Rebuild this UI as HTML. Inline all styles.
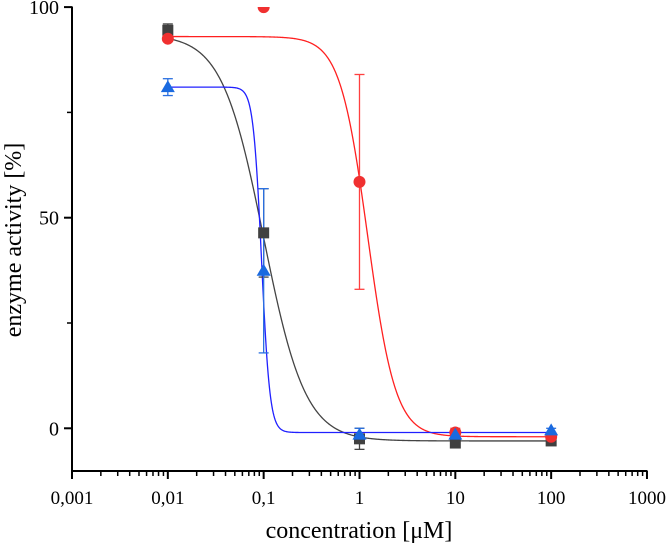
<!DOCTYPE html>
<html><head><meta charset="utf-8"><style>
body{margin:0;background:#fff;}
svg{display:block;font-family:"Liberation Serif",serif;}
</style></head><body>
<svg id="chart" width="666" height="545" viewBox="0 0 666 545" xmlns="http://www.w3.org/2000/svg">
<defs><clipPath id="clip"><rect x="72" y="7" width="580" height="464"/></clipPath></defs>
<g id="axes"></g>
<g id="plot" clip-path="url(#clip)"></g>
<text x="359" y="538" font-size="24" text-anchor="middle">concentration [μM]</text>
<text transform="translate(21,240) rotate(-90)" font-size="24" text-anchor="middle">enzyme activity [%]</text>
</svg>
<script>
const concentrations = [0.01, 0.1, 1, 10, 100];
const blackValues = [94.5, 46.4, -2.5, -3.5, -3];
const blackErrors = [1.5, 10.5, 2.5, 1, 0.5];
const redValues = [92.5, 100, 58.5, -1, -2];
const redErrors = [0.5, 0.5, 25.5, 1, 0.5];
const blueValues = [81, 37.4, -1.5, -1.5, -0.5];
const blueErrors = [2, 19.5, 1.5, 1, 0.5];
const blackFit = [93.5, -3, 0.1, 2.0];
const redFit = [93, -2, 1.22, 3.0];
const blueFit = [81, -1, 0.095, 10];
const xTickValues = [0.001, 0.01, 0.1, 1, 10, 100, 1000];
const xTickLabels = ["0,001", "0,01", "0,1", "1", "10", "100", "1000"];
const yTickValues = [0, 50, 100];
const yTickLabels = ["0", "50", "100"];
const yMinorValues = [25, 75];

const NS = "http://www.w3.org/2000/svg";
const X0 = 72, DEC = 95.83, Y0 = 428.3, YS = 4.212, AXY = 471;
function xs(v){ return X0 + (Math.log10(v) + 3) * DEC; }
function ys(v){ return Y0 - v * YS; }
function mk(tag, attrs, parent){ const e = document.createElementNS(NS, tag); for (const k in attrs) e.setAttribute(k, attrs[k]); parent.appendChild(e); return e; }
const axes = document.getElementById("axes"), plot = document.getElementById("plot");

let l = mk("line", {x1:X0, y1:AXY, x2:647.5, y2:AXY, stroke:"#000", "stroke-width":2}, axes);


l = mk("line", {x1:X0, y1:6.5, x2:X0, y2:AXY+1, stroke:"#000", "stroke-width":2}, axes);



xTickValues.forEach((v, i) => {
  const x = xs(v);
  const t = mk("line", {x1:x, y1:AXY, x2:x, y2:AXY+8, stroke:"#000", "stroke-width":2}, axes);
  
  
  const tx = mk("text", {x:x, y:AXY+33, "font-size":19, "text-anchor":"middle"}, axes);
  tx.textContent = xTickLabels[i];
  
  
  if (i < xTickValues.length - 1) {
    for (let m = 2; m <= 9; m++) {
      const mx = xs(v * m);
      const mt = mk("line", {x1:mx, y1:AXY, x2:mx, y2:AXY+5, stroke:"#000", "stroke-width":1.5}, axes);
      
      
    }
  }
});
yTickValues.forEach((v, i) => {
  const y = ys(v);
  const t = mk("line", {x1:X0-8, y1:y, x2:X0, y2:y, stroke:"#000", "stroke-width":2}, axes);
  
  
  const tx = mk("text", {x:X0-13, y:y+7, "font-size":20, "text-anchor":"end"}, axes);
  tx.textContent = yTickLabels[i];
  
  
});
yMinorValues.forEach(v => {
  const t = mk("line", {x1:X0-5, y1:ys(v), x2:X0, y2:ys(v), stroke:"#000", "stroke-width":1.5}, axes);
  
  
});

function hill(p, x){ return p[1] + (p[0] - p[1]) / (1 + Math.pow(x / p[2], p[3])); }
function curve(p, color, name){
  let d = "";
  for (let i = 0; i <= 600; i++) {
    const lx = -2 + i * 4 / 600, x = Math.pow(10, lx);
    d += (i ? "L" : "M") + xs(x).toFixed(2) + "," + ys(hill(p, x)).toFixed(2);
  }
  const c = mk("path", {d:d, fill:"none", stroke:color, "stroke-width":1.3}, plot);
  
  
}
function errs(vals, e, color, name){
  vals.forEach((v, i) => {
    const x = xs(concentrations[i]);
    const g = mk("g", {stroke:color, "stroke-width":1.3}, plot);
    
    
    mk("line", {x1:x, y1:ys(v+e[i]), x2:x, y2:ys(v-e[i])}, g);
    mk("line", {x1:x-5, y1:ys(v+e[i]), x2:x+5, y2:ys(v+e[i])}, g);
    mk("line", {x1:x-5, y1:ys(v-e[i]), x2:x+5, y2:ys(v-e[i])}, g);
  });
}
curve(blackFit, "#444", "black-fit-curve");
curve(redFit, "#ff2020", "red-fit-curve");
curve(blueFit, "#2020ff", "blue-fit-curve");
errs(blackValues, blackErrors, "#444", "black-error-bar");
errs(redValues, redErrors, "#ff4040", "red-error-bar");
errs(blueValues, blueErrors, "#2a70e0", "blue-error-bar");

blackValues.forEach((v, i) => {
  const s = mk("rect", {x:xs(concentrations[i])-5.5, y:ys(v)-5.5, width:11, height:11, fill:"#404040"}, plot);
  
  
});
redValues.forEach((v, i) => {
  const c = mk("circle", {cx:xs(concentrations[i]), cy:ys(v), r:6, fill:"#f03030"}, plot);
  
  
});
blueValues.forEach((v, i) => {
  const x = xs(concentrations[i]), y = ys(v);
  const t = mk("polygon", {points:`${x},${y-7} ${x-7},${y+5} ${x+7},${y+5}`, fill:"#1a6ae0"}, plot);
  
  
});
</script>
</body></html>
